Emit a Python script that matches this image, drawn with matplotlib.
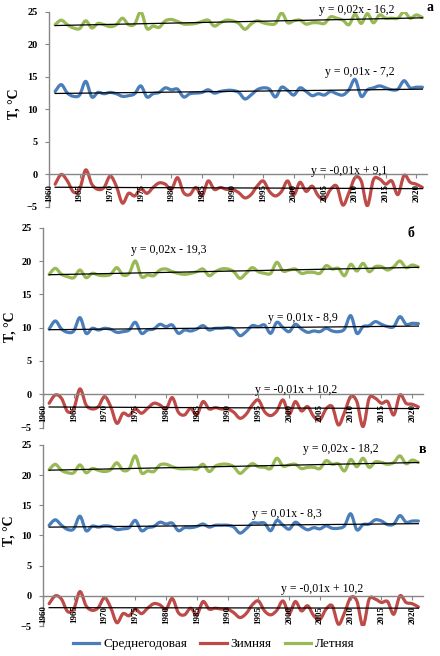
import numpy as np
import matplotlib
matplotlib.use("Agg")
import matplotlib.pyplot as plt
from matplotlib.path import Path
from matplotlib.patches import PathPatch
from matplotlib.lines import Line2D

plt.rcParams['font.family'] = ['Liberation Serif', 'DejaVu Serif']

years = list(range(1961, 2022))

# panel а
green_a = [23.0, 23.7, 23.0, 22.5, 22.4, 23.6, 22.5, 23.2, 23.0, 22.7,
           23.0, 24.0, 23.0, 23.1, 25.0, 22.4, 22.8, 22.6, 23.6, 23.8,
           23.5, 23.1, 23.1, 23.2, 23.5, 23.7, 22.8, 23.3, 23.7, 23.6,
           23.2, 22.3, 23.1, 23.6, 23.3, 23.1, 23.2, 24.8, 23.3, 23.6,
           23.7, 23.1, 23.3, 23.3, 23.2, 24.2, 24.0, 23.7, 23.0, 24.6,
           23.2, 24.7, 23.3, 24.5, 24.0, 24.0, 24.0, 25.0, 24.0, 24.5, 24.1]
blue_a = [12.75, 13.8, 12.5, 12.0, 12.2, 14.3, 11.9, 12.6, 12.4, 12.6,
          12.4, 12.0, 12.1, 12.4, 13.6, 11.9, 12.4, 12.6, 13.3, 13.0,
          13.1, 11.9, 12.4, 12.5, 12.6, 13.0, 12.5, 12.75, 12.9, 12.9,
          12.6, 11.6, 12.2, 13.0, 13.3, 13.1, 11.9, 13.4, 12.9, 12.2,
          13.3, 12.75, 12.1, 12.4, 12.2, 12.75, 12.4, 12.2, 13.0, 14.6,
          12.0, 13.0, 13.3, 13.6, 13.3, 13.0, 13.1, 14.4, 13.3, 13.4, 13.4]
red_a = [-1.5, 0.0, -1.0, -2.7, -2.3, 0.7, -1.5, -2.3, -2.0, -0.25,
         -1.8, -4.4, -2.9, -3.3, -2.2, -2.9, -2.0, -1.3, -1.5, -2.3,
         -0.5, -2.8, -3.1, -2.0, -3.3, -1.0, -2.3, -2.0, -2.3, -2.3,
         -2.8, -3.6, -3.1, -1.8, -1.0, -2.6, -3.3, -2.6, -1.0, -3.1,
         -1.2, -2.6, -1.8, -3.3, -3.8, -2.3, -1.8, -4.7, -2.8, -0.5,
         -1.0, -4.8, -0.8, -0.7, -1.5, -1.0, -3.1, -0.15, -1.2, -1.5, -2.0]

# panel б
green_b = [18.0, 18.9, 18.0, 17.65, 17.5, 18.65, 17.5, 18.15, 17.9, 17.8,
           18.0, 19.0, 17.9, 18.15, 20.0, 17.65, 17.9, 17.8, 18.65, 18.8,
           18.4, 18.15, 18.0, 18.15, 18.4, 18.8, 17.8, 18.4, 18.8, 18.8,
           18.4, 17.4, 18.15, 19.0, 18.4, 18.15, 18.15, 19.8, 18.5, 18.65,
           18.8, 18.15, 18.3, 18.3, 18.15, 19.3, 18.8, 18.9, 17.8, 19.5,
           18.5, 19.65, 18.4, 19.15, 19.15, 18.65, 19.15, 20.0, 19.0, 19.4, 19.1]
blue_b = [9.8, 11.0, 9.8, 9.3, 9.5, 11.5, 9.15, 9.9, 9.65, 9.9,
          9.75, 9.3, 9.4, 9.65, 10.8, 9.15, 9.65, 9.8, 10.5, 10.15,
          10.4, 9.15, 9.65, 9.5, 9.8, 10.3, 9.65, 9.9, 9.9, 10.0,
          9.8, 8.8, 9.4, 10.3, 10.15, 10.4, 9.15, 10.8, 10.0, 9.4,
          10.5, 9.8, 9.3, 9.5, 9.4, 9.9, 9.5, 9.4, 9.8, 11.8,
          9.15, 10.15, 10.3, 10.9, 10.5, 10.15, 10.15, 11.65, 10.5, 10.65, 10.6]
red_b = [-1.35, -0.1, -0.6, -2.6, -2.2, 0.8, -1.6, -2.2, -1.85, -0.35,
         -1.85, -4.35, -2.85, -3.2, -2.2, -2.85, -2.1, -1.35, -1.6, -2.2,
         -0.5, -2.7, -3.1, -2.1, -3.1, -1.1, -2.2, -2.0, -2.2, -2.2,
         -2.7, -3.6, -3.0, -1.6, -0.85, -2.6, -3.2, -2.5, -0.85, -3.0,
         -1.1, -2.5, -1.85, -3.35, -3.85, -2.2, -1.85, -4.6, -2.7, -0.35,
         -1.1, -4.85, -0.6, -0.6, -1.35, -1.1, -3.1, -0.1, -1.35, -1.5, -1.9]

# panel в
green_v = [20.9, 21.8, 20.8, 20.4, 20.4, 21.7, 20.4, 21.1, 20.8, 20.6,
           20.9, 22.05, 20.8, 21.05, 23.2, 20.4, 20.7, 20.6, 21.7, 21.8,
           21.4, 21.1, 21.05, 21.1, 21.0, 21.8, 20.6, 21.5, 21.8, 21.8,
           21.4, 20.3, 21.1, 21.9, 21.4, 21.3, 21.1, 22.8, 21.5, 21.7,
           21.8, 21.1, 21.3, 21.3, 21.1, 22.4, 21.8, 21.9, 20.7, 22.6,
           21.4, 22.8, 21.3, 22.2, 22.1, 21.8, 22.1, 23.2, 21.9, 22.5, 22.1]
blue_v = [11.7, 12.6, 11.7, 11.0, 11.1, 13.2, 10.8, 11.55, 11.4, 11.6,
          11.5, 11.0, 11.1, 11.3, 12.5, 10.8, 11.3, 11.5, 12.2, 11.9,
          12.05, 10.8, 11.3, 11.3, 11.5, 11.9, 11.4, 11.7, 11.7, 11.7,
          11.4, 10.4, 11.1, 12.05, 12.05, 12.05, 10.8, 12.5, 11.7, 11.05,
          12.2, 11.5, 10.95, 11.3, 11.1, 11.6, 11.2, 11.2, 11.6, 13.6,
          10.95, 11.8, 11.9, 12.6, 12.4, 11.8, 11.9, 13.3, 12.2, 12.4, 12.4]
red_v = [-1.3, 0.0, -0.55, -2.6, -2.2, 0.7, -1.65, -2.4, -1.95, -0.3,
         -1.95, -4.45, -2.95, -3.3, -2.2, -2.95, -2.05, -1.3, -1.5, -2.2,
         -0.45, -2.8, -3.15, -2.05, -3.15, -0.95, -2.2, -2.05, -2.2, -2.2,
         -2.8, -3.6, -2.95, -1.5, -0.85, -2.5, -3.15, -2.4, -0.85, -2.95,
         -0.95, -2.5, -1.65, -3.3, -3.9, -2.2, -1.65, -4.7, -2.8, -0.3,
         -0.85, -5.0, -0.55, -0.55, -1.1, -0.95, -3.05, 0.0, -1.1, -1.3, -1.85]

series_names = ['Среднегодовая', 'Зимняя', 'Летняя']
colors = ['#4A7EBB', '#BE4B48', '#98B954']

panels = [
    {'letter': 'а', 'data': [blue_a, red_a, green_a],
     'eqs': ['y = 0,01x - 7,2', 'y = -0,01x + 9,1', 'y = 0,02x - 16,2'],
     'eq_pos': [(2010.7, 15.7), (2009.1, 0.5), (2010.2, 25.3)],
     'letter_pos': (2022.3, 25.7)},
    {'letter': 'б', 'data': [blue_b, red_b, green_b],
     'eqs': ['y = 0,01x - 8,9', 'y = -0,01x + 10,2', 'y = 0,02x - 19,3'],
     'eq_pos': [(2002.2, 11.5), (2001.2, 0.7), (1980.4, 21.7)],
     'letter_pos': (2019.8, 24.2)},
    {'letter': 'в', 'data': [blue_v, red_v, green_v],
     'eqs': ['y = 0,01x - 8,3', 'y = -0,01x + 10,2', 'y = 0,02x - 18,2'],
     'eq_pos': [(1999.7, 13.5), (2005.4, 1.2), (2008.4, 24.3)],
     'letter_pos': (2021.7, 24.3)},
]

# axes boxes in pixels: left, right, top, bottom
boxes = [(49, 427, 11.7, 207), (43, 423, 227.7, 427.6), (43, 423, 445, 626)]
ylabel_pos = [(14, 104), (10, 327), (9, 531)]

W, H = 440, 656
fig = plt.figure(figsize=(W / 100, H / 100), dpi=100)


def smooth_line(ax, x, y, color):
    # excel-like smoothed line as cubic bezier through the points
    pts = np.column_stack([x, y]).astype(float)
    n = len(pts)
    verts = [pts[0]]
    codes = [Path.MOVETO]
    for i in range(n - 1):
        p0 = pts[i - 1] if i > 0 else pts[i]
        p1 = pts[i]
        p2 = pts[i + 1]
        p3 = pts[i + 2] if i + 2 < n else pts[i + 1]
        verts += [p1 + (p2 - p0) / 6, p2 - (p3 - p1) / 6, p2]
        codes += [Path.CURVE4] * 3
    patch = PathPatch(Path(verts, codes), fill=False, edgecolor=color, lw=2.3,
                      capstyle='round', joinstyle='round', zorder=2)
    ax.add_patch(patch)


for p, box, ylp in zip(panels, boxes, ylabel_pos):
    l, r, t, b = box
    ax = fig.add_axes([l / W, 1 - b / H, (r - l) / W, (b - t) / H])
    ax.set_xlim(1960, 2021.75)
    ax.set_ylim(-5, 25)

    for vals, c in zip(p['data'], colors):
        smooth_line(ax, years, vals, c)
        k, c0 = np.polyfit(years, vals, 1)
        ax.plot([years[0], years[-1]], [k * years[0] + c0, k * years[-1] + c0],
                color='black', lw=0.9, zorder=3)

    for eq, (ex, ey) in zip(p['eqs'], p['eq_pos']):
        ax.text(ex, ey, eq, ha='center', va='center', fontsize=8.5, zorder=4)
    lx, ly = p['letter_pos']
    ax.text(lx, ly, p['letter'], ha='center', va='center', fontsize=10,
            fontweight='bold', clip_on=False)

    for s in ['top', 'right']:
        ax.spines[s].set_visible(False)
    ax.spines['bottom'].set_position(('data', 0))
    for s in ['left', 'bottom']:
        ax.spines[s].set_color('#868686')
        ax.spines[s].set_linewidth(1.0)
    ax.set_xticks(range(1960, 2021, 5))
    ax.set_yticks(range(-5, 26, 5))
    ax.tick_params(axis='x', direction='out', length=3, color='#868686',
                   labelrotation=90, labelsize=6.5, pad=4)
    ax.tick_params(axis='y', direction='out', length=3, color='#868686',
                   labelsize=7.5, pad=5)
    for lab in ax.get_xticklabels() + ax.get_yticklabels():
        lab.set_fontweight('bold')
    # year labels sit on top of the winter curve, like in the original
    ax.xaxis.set_zorder(5)

    fig.text(ylp[0] / W, 1 - ylp[1] / H, 'T, °C', rotation=90, ha='center',
             va='center', fontsize=10, fontweight='bold')

handles = [Line2D([], [], color=c, lw=2.3) for c in colors]
fig.legend(handles, series_names, loc='center', ncol=3, frameon=False,
           bbox_to_anchor=(214 / W, 1 - 644 / H), fontsize=9.5,
           handlelength=2.0, columnspacing=1.0, handletextpad=0.3)

fig.savefig('out.png', dpi=100)
